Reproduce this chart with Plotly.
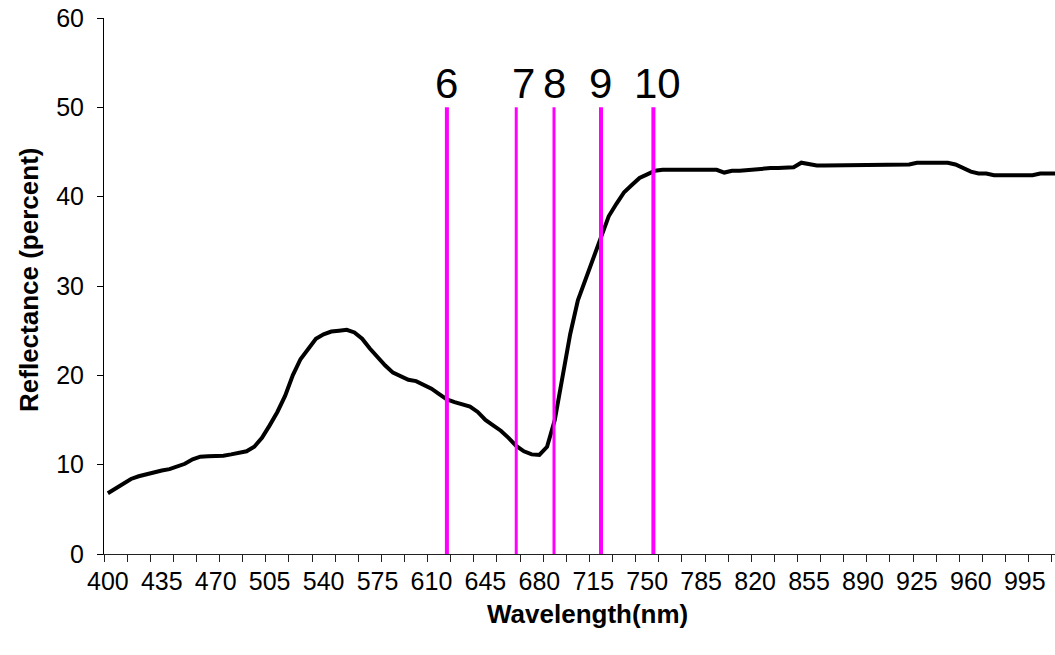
import plotly.graph_objects as go

# ---------------- data ----------------
wavelength = list(range(400, 1020, 5))
reflectance = [
    6.8, 7.3, 7.9, 8.4, 8.7, 8.95, 9.15, 9.35, 9.5, 9.8,          # 400-445
    10.1, 10.6, 10.9, 10.95, 10.95, 11.0, 11.15, 11.3, 11.5, 12.0,  # 450-495
    13.0, 14.4, 15.9, 17.7, 20.0, 21.8, 23.0, 24.1, 24.6, 24.9,     # 500-545
    25.0, 25.1, 24.8, 24.1, 23.0, 22.0, 21.1, 20.3, 19.9, 19.5,     # 550-595
    19.35, 18.95, 18.5, 17.9, 17.3, 17.0, 16.8, 16.5, 15.9, 15.0,   # 600-645
    14.4, 13.8, 13.0, 12.1, 11.5, 11.15, 11.1, 12.0, 15.0, 19.9,    # 650-695
    24.6, 28.4, 30.8, 33.2, 35.6, 37.8, 39.2, 40.5, 41.3, 42.1,     # 700-745
    42.5, 42.9, 43.0, 43.0, 43.0, 43.0, 43.0, 43.0, 43.0, 43.0,     # 750-795
    42.7, 42.9, 42.9, 43.0, 43.1, 43.2, 43.2, 43.2, 43.3, 43.3,     # 800-845
    43.8, 43.6, 43.5, 43.5, 43.5, 43.5, 43.5, 43.6, 43.6, 43.6,     # 850-895
    43.6, 43.6, 43.6, 43.6, 43.6, 43.8, 43.8, 43.8, 43.8, 43.8,     # 900-945
    43.6, 43.2, 42.8, 42.6, 42.6, 42.4, 42.4, 42.4, 42.4, 42.4,     # 950-995
    42.4, 42.6, 42.6, 42.6,                                         # 1000-1015
]

band_labels = ["6", "7", "8", "9", "10"]
band_wavelength = [620, 665, 689.5, 720, 754]
band_top = [50, 50, 50, 50, 50]

x_tick_vals = list(range(400, 1000, 35))
x_tick_text = [str(v) for v in x_tick_vals]
y_tick_vals = [0, 10, 20, 30, 40, 50, 60]

x_title = "Wavelength(nm)"
y_title = "Reflectance (percent)"

# ---------------- styles ----------------
FONT = "Arial, Liberation Sans, sans-serif"
MAGENTA = "#FF00FF"
band_line_width = {"6": 4, "7": 3, "8": 3, "9": 4, "10": 4}
band_label_shift = {"6": 0, "7": 7, "8": 0, "9": -1, "10": 4}

X_RANGE = [397.5, 1014.6]
Y_RANGE = [0, 60]

fig = go.Figure()

fig.add_trace(go.Scatter(
    x=wavelength, y=reflectance, mode="lines",
    line=dict(color="black", width=4), showlegend=False,
    hoverinfo="skip",
))

for lab, wl, top in zip(band_labels, band_wavelength, band_top):
    fig.add_trace(go.Scatter(
        x=[wl, wl], y=[0, top], mode="lines",
        line=dict(color=MAGENTA, width=band_line_width[lab]),
        showlegend=False, hoverinfo="skip",
    ))
    fig.add_annotation(
        x=wl, y=top, xref="x", yref="y", text=lab, showarrow=False,
        xanchor="center", yanchor="bottom", xshift=band_label_shift[lab],
        yshift=-2, font=dict(family=FONT, size=42, color="black"),
    )

fig.add_annotation(
    x=0.508, y=-0.112, xref="paper", yref="paper", text=f"<b>{x_title}</b>",
    showarrow=False, xanchor="center", yanchor="middle",
    font=dict(family=FONT, size=26, color="black"),
)
fig.add_annotation(
    x=-0.079, y=0.511, xref="paper", yref="paper", text=f"<b>{y_title}</b>",
    showarrow=False, xanchor="center", yanchor="middle", textangle=-90,
    font=dict(family=FONT, size=26, color="black"),
)

fig.update_layout(
    width=1055, height=655,
    margin=dict(l=104, r=0, t=18, b=101, pad=0),
    paper_bgcolor="white", plot_bgcolor="white",
    showlegend=False,
    font=dict(family=FONT, size=25, color="black"),
    xaxis=dict(
        range=X_RANGE, showgrid=False, zeroline=False,
        showline=True, linecolor="#222", linewidth=1,
        tickmode="array", tickvals=x_tick_vals, ticktext=x_tick_text,
        ticks="", ticklabelstandoff=5,
        tickfont=dict(family=FONT, size=25, color="black"),
        minor=dict(tickmode="linear", tick0=397.5, dtick=15,
                   ticks="outside", ticklen=7, tickcolor="#222", tickwidth=1,
                   showgrid=False),
        anchor="y",
    ),
    xaxis2=dict(
        range=X_RANGE, overlaying="x", anchor="y", side="bottom",
        showgrid=False, zeroline=False, showline=False,
        tickmode="linear", tick0=397.5, dtick=15,
        ticks="inside", ticklen=7, tickcolor="#222", tickwidth=1,
        showticklabels=False,
    ),
    yaxis=dict(
        range=Y_RANGE, showgrid=False, zeroline=False,
        showline=True, linecolor="black", linewidth=1,
        tickmode="array", tickvals=y_tick_vals,
        ticks="outside", ticklen=6, tickcolor="black", tickwidth=1,
        ticklabelstandoff=8,
        tickfont=dict(family=FONT, size=25, color="black"),
        anchor="x",
    ),
    yaxis2=dict(
        range=Y_RANGE, overlaying="y", anchor="x", side="left",
        showgrid=False, zeroline=False, showline=False,
        tickmode="array", tickvals=y_tick_vals,
        ticks="inside", ticklen=6, tickcolor="black", tickwidth=1,
        showticklabels=False,
    ),
)

fig.write_html("out.html", post_script="document.body.style.margin='0';",
               config={"displayModeBar": False})
